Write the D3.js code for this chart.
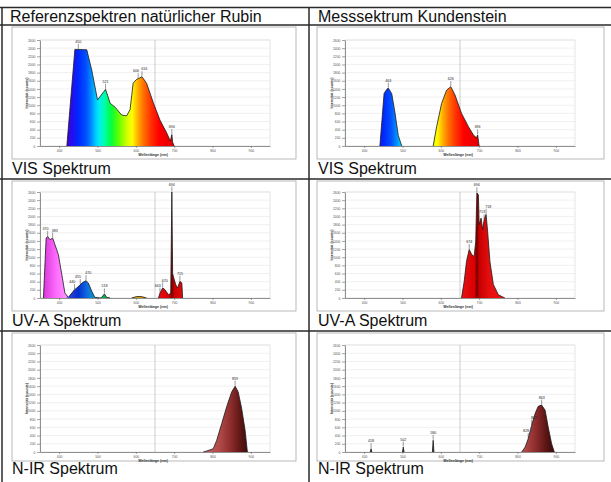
<!DOCTYPE html>
<html><head><meta charset="utf-8">
<script src="https://cdn.jsdelivr.net/npm/d3@7"></script>
<style>
body{margin:0;background:#fff}
svg{display:block}
text{font-family:"Liberation Sans",Arial,sans-serif}
</style>
</head><body>
<svg id="c" width="611" height="482"></svg>
<script>
// ---------- text ----------
const headers = ["Referenzspektren natürlicher Rubin", "Messsektrum Kundenstein"];
const rowLabels = ["VIS Spektrum", "UV-A Spektrum", "N-IR Spektrum"];
const xTitle = "Wellenlänge (nm)";
const yTitle = "Intensität (counts)";

// ---------- axes ----------
const xTicks = [400, 500, 600, 700, 800, 900];
const yTicks = [0, 200, 400, 600, 800, 1000, 1200, 1400, 1600, 1800, 2000, 2200, 2400, 2600];
const xDomain = [350, 950];
const yDomain = [0, 2600];
const markerNm = 650;

// ---------- spectra (wavelength nm / counts) ----------
const visRefNm  = [420, 441, 472, 485, 500, 521, 533, 546, 563, 576, 585, 593, 602, 606, 616, 628, 646, 663, 681, 690, 694, 696, 700];
const visRefI   = [0, 2370, 2360, 1860, 1130, 1390, 1050, 950, 760, 740, 895, 1540, 1635, 1650, 1700, 1540, 1050, 635, 310, 120, 280, 90, 0];
const visRefPeaks = [450, 521, 606, 616, 694];

const visKdNm = [441, 452, 459, 463, 472, 480, 489, 498, 580, 589, 602, 615, 626, 637, 654, 672, 685, 693, 696, 699, 700];
const visKdI  = [0, 1290, 1390, 1420, 1280, 835, 260, 0, 0, 470, 1045, 1370, 1455, 1250, 800, 475, 270, 200, 270, 60, 0];
const visKdPeaks = [463, 626, 696];

const uvRefNm = [359, 366, 370, 376, 383, 389, 398, 407, 415, 424, 433, 440, 446, 455, 463, 470, 476, 485, 493, 507, 511, 518, 524, 533, 589, 602, 615, 628, 659, 663, 670, 676, 685, 691, 694, 696, 699, 704, 709, 715, 720, 722];
const uvRefI  = [0, 1470, 1510, 1430, 1470, 1310, 1060, 570, 120, 16, 120, 205, 245, 330, 390, 425, 370, 165, 16, 0, 16, 100, 16, 0, 0, 35, 35, 0, 0, 120, 245, 205, 80, 120, 2600, 600, 490, 330, 245, 410, 370, 0];
const uvRefPeaks = [370, 383, 440, 455, 470, 518, 663, 670, 694, 715];

const uvKdNm = [654, 661, 667, 674, 681, 687, 691, 694, 698, 700, 705, 709, 713, 718, 722, 728, 737, 750, 767];
const uvKdI  = [0, 410, 900, 1190, 1060, 1020, 1390, 2580, 2530, 1800, 1960, 1680, 1920, 2050, 1640, 900, 330, 80, 0];
const uvKdPeaks = [674, 694, 713, 718];

const nirRefNm = [776, 785, 802, 811, 824, 837, 850, 859, 867, 876, 885, 891];
const nirRefI  = [0, 25, 80, 285, 690, 1100, 1460, 1600, 1460, 1060, 530, 0];
const nirRefPeaks = [859];

const nirKdNm = [416, 418, 420, 500, 502, 504, 578, 580, 582, 811, 820, 828, 837, 846, 854, 863, 872, 880, 889, 896];
const nirKdI  = [0, 80, 0, 0, 120, 0, 0, 285, 0, 0, 120, 325, 650, 935, 1110, 1140, 1015, 610, 200, 0];
const nirKdPeaks = [418, 502, 580, 828, 837, 863];

// ---------- palettes (style) ----------
const palettes = {
  vis: [[350,"#5a00c8"],[420,"#4000d8"],[435,"#2010f0"],[450,"#0028ff"],[470,"#0050ff"],[485,"#0090ff"],[495,"#00c8ff"],[505,"#00f0f0"],[520,"#00ffa0"],[535,"#00ff40"],[555,"#60ff00"],[575,"#c8ff00"],[590,"#ffff00"],[605,"#ffb000"],[620,"#ff7000"],[640,"#ff3000"],[660,"#ff0000"],[700,"#e00000"],[950,"#c00000"]],
  uv: [[350,"#c020c0"],[365,"#e040e0"],[395,"#ff70ff"],[418,"#ff90ff"],[425,"#3040e0"],[450,"#0030d0"],[475,"#1070e0"],[495,"#00a0c0"],[515,"#00b050"],[540,"#40b000"],[580,"#c0c000"],[610,"#e0a000"],[640,"#e06000"],[655,"#e81010"],[688,"#d80000"],[694,"#700000"],[700,"#c80000"],[730,"#e81010"],[950,"#e81010"]],
  nir: [[350,"#303040"],[600,"#303040"],[780,"#c86060"],[820,"#b04848"],[850,"#8a2a2a"],[875,"#5a1414"],[900,"#380808"],[950,"#300808"]]
};

const panels = [
  {col:0,row:0,nm:visRefNm,v:visRefI,peaks:visRefPeaks,pal:"vis"},
  {col:1,row:0,nm:visKdNm,v:visKdI,peaks:visKdPeaks,pal:"vis"},
  {col:0,row:1,nm:uvRefNm,v:uvRefI,peaks:uvRefPeaks,pal:"uv"},
  {col:1,row:1,nm:uvKdNm,v:uvKdI,peaks:uvKdPeaks,pal:"uv"},
  {col:0,row:2,nm:nirRefNm,v:nirRefI,peaks:nirRefPeaks,pal:"nir"},
  {col:1,row:2,nm:nirKdNm,v:nirKdI,peaks:nirKdPeaks,pal:"nir"}
];

// ---------- layout ----------
const svg = d3.select("#c");
const colLeft = [2, 309, 612];
const rowTop = [7.5, 25, 179, 331, 483];
const frameX = [[12, 296], [317, 604]];
const frameY = [[27, 159], [181, 311], [333, 461]];
const plotX = [[40, 270], [345, 575]];
const plotY = [[40, 146], [192, 298], [345, 452]];
const labelBase = [174, 325.5, 474];

// table lines
const tg = svg.append("g").attr("stroke", "#2a2a2a").attr("stroke-width", 1.5);
rowTop.forEach(y => tg.append("line").attr("x1", 0).attr("x2", 611).attr("y1", y).attr("y2", y));
colLeft.forEach(x => tg.append("line").attr("x1", x).attr("x2", x).attr("y1", rowTop[0]).attr("y2", 483));

headers.forEach((h, c) => svg.append("text").attr("x", c ? 318 : 10).attr("y", 21.5)
  .attr("font-size", 16).attr("fill", "#111").text(h));

const defs = svg.append("defs");

function segments(nm, v) {
  const pts = nm.map((n, i) => ({n, v: v[i]}));
  const segs = []; let cur = [];
  pts.forEach(p => { cur.push(p); if (p.v === 0 && cur.length > 1) { segs.push(cur); cur = [p]; } });
  if (cur.length > 1) segs.push(cur);
  return segs.filter(s => s.some(p => p.v > 0));
}

panels.forEach((p, idx) => {
  const [fx0, fx1] = frameX[p.col], [fy0, fy1] = frameY[p.row];
  const [px0, px1] = plotX[p.col], [py0, py1] = plotY[p.row];
  const g = svg.append("g");

  svg.append("text").attr("x", p.col ? 318 : 12).attr("y", labelBase[p.row])
    .attr("font-size", 16).attr("fill", "#111").text(rowLabels[p.row]);

  g.append("rect").attr("x", fx0).attr("y", fy0).attr("width", fx1 - fx0).attr("height", fy1 - fy0)
    .attr("fill", "#fff").attr("stroke", "#a8a8a8").attr("stroke-width", 0.8);

  const x = d3.scaleLinear().domain(xDomain).range([px0, px1]);
  const y = d3.scaleLinear().domain(yDomain).range([py1, py0]);

  g.append("rect").attr("x", px0).attr("y", py0).attr("width", px1 - px0).attr("height", py1 - py0)
    .attr("fill", "#fff").attr("stroke", "#d4d4d4").attr("stroke-width", 0.6);
  g.append("g").selectAll("line").data(yTicks.slice(1)).join("line")
    .attr("x1", px0).attr("x2", px1).attr("y1", d => y(d)).attr("y2", d => y(d))
    .attr("stroke", "#e6e6e6").attr("stroke-width", 0.6);
  g.append("line").attr("x1", x(markerNm)).attr("x2", x(markerNm)).attr("y1", py0).attr("y2", py1)
    .attr("stroke", "#b8b8b8").attr("stroke-width", 0.7);

  const gid = "grad" + idx;
  const grad = defs.append("linearGradient").attr("id", gid).attr("gradientUnits", "userSpaceOnUse")
    .attr("x1", x(xDomain[0])).attr("x2", x(xDomain[1])).attr("y1", 0).attr("y2", 0);
  palettes[p.pal].forEach(([n, c]) => grad.append("stop")
    .attr("offset", (n - xDomain[0]) / (xDomain[1] - xDomain[0])).attr("stop-color", c));

  const area = d3.area().x(d => x(d.n)).y0(y(0)).y1(d => y(d.v));
  const line = d3.line().x(d => x(d.n)).y(d => y(d.v));
  segments(p.nm, p.v).forEach(s => {
    g.append("path").attr("d", area(s)).attr("fill", `url(#${gid})`);
    g.append("path").attr("d", line(s)).attr("fill", "none").attr("stroke", "#1a1a1a")
      .attr("stroke-width", 0.8).attr("stroke-linejoin", "round");
  });

  const ax = g.append("g").attr("transform", `translate(0,${py1})`)
    .call(d3.axisBottom(x).tickValues(xTicks).tickFormat(d3.format("d")).tickSize(2).tickSizeOuter(0).tickPadding(1.5));
  const ay = g.append("g").attr("transform", `translate(${px0},0)`)
    .call(d3.axisLeft(y).tickValues(yTicks).tickFormat(d3.format("d")).tickSize(3).tickSizeOuter(0).tickPadding(1.5));
  [ax, ay].forEach(a => {
    a.select(".domain").attr("stroke", "#666").attr("stroke-width", 0.7);
    a.selectAll(".tick line").attr("stroke", "#666").attr("stroke-width", 0.6);
    a.selectAll(".tick text").attr("font-size", 3.4).attr("fill", "#555")
      .attr("font-family", "Liberation Sans, Arial, sans-serif");
  });

  g.append("text").attr("x", (px0 + px1) / 2 - 2).attr("y", py1 + 9.5).attr("text-anchor", "middle")
    .attr("font-size", 3.6).attr("font-weight", "bold").attr("fill", "#333").text(xTitle);
  g.append("text").attr("transform", `translate(${px0 - 12},${(py0 + py1) / 2}) rotate(-90)`)
    .attr("text-anchor", "middle").attr("font-size", 3.6).attr("font-weight", "bold").attr("fill", "#333").text(yTitle);

  // peak labels (close neighbours are anchored apart)
  const interp = d3.scaleLinear().domain(p.nm).range(p.v);
  p.peaks.forEach((n, i) => {
    const vy = y(interp(n));
    const closeNext = i < p.peaks.length - 1 && p.peaks[i + 1] - n < 16;
    const closePrev = i > 0 && n - p.peaks[i - 1] < 16;
    const anchor = closeNext ? "end" : closePrev ? "start" : "middle";
    const dx = closeNext ? 0.8 : closePrev ? -0.8 : 0;
    g.append("line").attr("x1", x(n)).attr("x2", x(n)).attr("y1", vy - 5.5).attr("y2", vy - 0.5)
      .attr("stroke", "#333").attr("stroke-width", 0.5);
    g.append("text").attr("x", x(n) + dx).attr("y", vy - 6.5).attr("text-anchor", anchor)
      .attr("font-size", 3.6).attr("fill", "#222").text(n);
  });
});
</script>
</body></html>
